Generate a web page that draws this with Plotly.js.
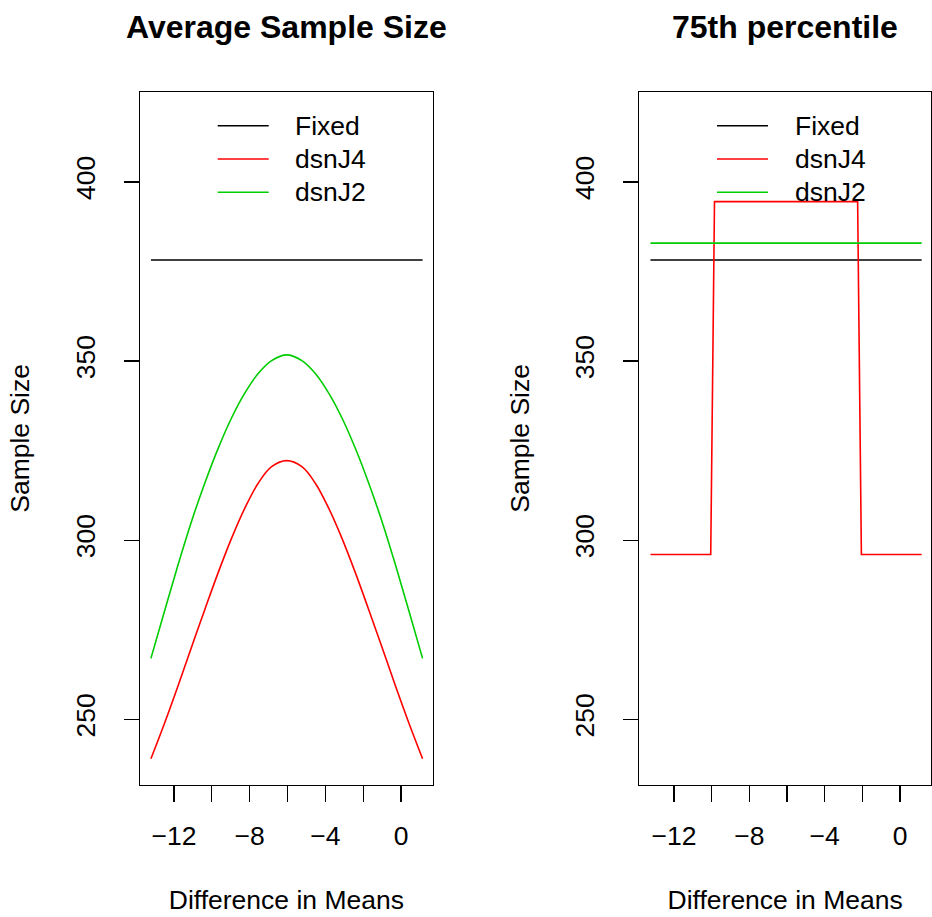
<!DOCTYPE html>
<html>
<head>
<meta charset="utf-8">
<script src="https://cdn.plot.ly/plotly-3.0.1.min.js"></script>
<style>html,body{margin:0;padding:0;background:#fff}#chart{width:932px;height:917px}</style>
</head>
<body>
<div id="chart"></div>
<script>
// ---- data ----
const panelTitles = ["Average Sample Size", "75th percentile"];
const seriesNames = ["Fixed", "dsnJ4", "dsnJ2"];
const seriesColors = ["#000000", "#FF0000", "#00CD00"];

// Left panel: average sample size vs difference in means
const xAvg = [-13.22, -12.48, -11.77, -11.07, -10.36, -9.66, -8.96, -8.25, -7.55, -6.84, -6.04,
              -5.24, -4.53, -3.83, -3.12, -2.42, -1.72, -1.01, -0.31, 0.40, 1.14];
const avgFixed = [378.2, 378.2, 378.2, 378.2, 378.2, 378.2, 378.2, 378.2, 378.2, 378.2, 378.2,
                  378.2, 378.2, 378.2, 378.2, 378.2, 378.2, 378.2, 378.2, 378.2, 378.2];
const avgJ4 = [239.0, 249.2, 259.6, 270.2, 280.8, 291.0, 300.5, 309.0, 315.9, 320.5, 322.2,
               320.5, 315.9, 309.0, 300.5, 291.0, 280.8, 270.2, 259.6, 249.2, 239.0];
const avgJ2 = [267.0, 280.6, 293.4, 305.3, 316.1, 325.7, 334.1, 341.1, 346.5, 350.1, 351.7,
               350.1, 346.5, 341.1, 334.1, 325.7, 316.1, 305.3, 293.4, 280.6, 267.0];

// Right panel: 75th percentile of sample size
const xP75 = [-13.25, -10.05, -9.85, -2.25, -2.05, 1.15];
const p75Fixed = [378.2, 378.2, 378.2, 378.2, 378.2, 378.2];
const p75J4 = [296.0, 296.0, 394.5, 394.5, 296.0, 296.0];
const p75J2 = [382.9, 382.9, 382.9, 382.9, 382.9, 382.9];

const xTickVals = [-12, -10, -8, -6, -4, -2, 0];
const xTickText = ["\u221212", "", "\u22128", "", "\u22124", "", "0"];
const yTickVals = [250, 300, 350, 400];
const yTickText = ["250", "300", "350", "400"];

// ---- chart ----
const W = 932, H = 917;
const FONT = "Liberation Sans, Arial, Helvetica, sans-serif";
const fs = 26.5;

function line(x, y, i, xa, ya) {
  return {x: x, y: y, xaxis: xa, yaxis: ya, type: "scatter", mode: "lines",
          name: seriesNames[i], showlegend: false,
          line: {color: seriesColors[i], width: 1.6, shape: "spline", smoothing: 1}};
}
function lineLin(x, y, i, xa, ya) {
  const t = line(x, y, i, xa, ya); t.line.shape = "linear"; return t;
}

const traces = [
  line(xAvg, avgFixed, 0, "x", "y"),
  line(xAvg, avgJ4, 1, "x", "y"),
  line(xAvg, avgJ2, 2, "x", "y"),
  lineLin(xP75, p75Fixed, 0, "x2", "y2"),
  lineLin(xP75, p75J4, 1, "x2", "y2"),
  lineLin(xP75, p75J2, 2, "x2", "y2")
];

const boxL = [140, 639.3], boxR = [432.7, 931], boxT = 92.3, boxB = 784.5;
const yDom = [(H - boxB) / H, (H - boxT) / H];

function xAxis(i, range) {
  return {
    domain: [boxL[i] / W, boxR[i] / W], range: range, anchor: i ? "y2" : "y",
    tickmode: "array", tickvals: xTickVals, ticktext: xTickText,
    ticks: "outside", ticklen: 16, tickwidth: 1.3, tickcolor: "#000",
    showline: true, mirror: true, linecolor: "#000", linewidth: 1.3,
    showgrid: false, zeroline: false,
    tickfont: {family: FONT, size: fs, color: "#000"},
    ticklabelstandoff: 11,
    title: {text: "Difference in Means", font: {family: FONT, size: fs, color: "#000"}, standoff: 41},
    automargin: false
  };
}
function yAxis(i) {
  return {
    domain: yDom, range: [231.8, 425.0], anchor: i ? "x2" : "x",
    tickmode: "array", tickvals: yTickVals, ticktext: yTickText, tickangle: -90,
    ticks: "outside", ticklen: 15, tickwidth: 1.3, tickcolor: "#000",
    showline: true, mirror: true, linecolor: "#000", linewidth: 1.3,
    showgrid: false, zeroline: false,
    tickfont: {family: FONT, size: fs, color: "#000"},
    ticklabelstandoff: 18,
    title: {text: "Sample Size", font: {family: FONT, size: fs, color: "#000"}, standoff: 33},
    automargin: false
  };
}

const annotations = [];
const shapes = [];
[0, 1].forEach(i => {
  annotations.push({xref: "paper", yref: "paper", x: (boxL[i] + boxR[i]) / 2 / W, y: 1 - 27 / H,
    xanchor: "center", yanchor: "middle", showarrow: false, text: "<b>" + panelTitles[i] + "</b>",
    font: {family: FONT, size: 32, color: "#000"}});
  // legend without a box, as in the reference
  for (let k = 0; k < 3; k++) {
    const yy = 1 - (125.7 + 33.3 * k) / H;
    const x0 = boxL[i] + 77.7, x1 = boxL[i] + 128.7;
    shapes.push({type: "line", xref: "paper", yref: "paper", x0: x0 / W, x1: x1 / W, y0: yy, y1: yy,
      line: {color: seriesColors[k], width: 1.6}});
    annotations.push({xref: "paper", yref: "paper", x: (boxL[i] + 153.3) / W, y: yy,
      xanchor: "left", yanchor: "middle", showarrow: false, text: seriesNames[k],
      font: {family: FONT, size: fs, color: "#000"}});
  }
});

const layout = {
  width: W, height: H, margin: {l: 0, r: 0, t: 0, b: 0},
  paper_bgcolor: "#fff", plot_bgcolor: "#fff", showlegend: false,
  xaxis: xAxis(0, [-13.797, 1.675]), yaxis: yAxis(0),
  xaxis2: xAxis(1, [-13.843, 1.646]), yaxis2: yAxis(1),
  annotations: annotations, shapes: shapes
};

Plotly.newPlot("chart", traces, layout, {staticPlot: true, displayModeBar: false});
</script>
</body>
</html>
